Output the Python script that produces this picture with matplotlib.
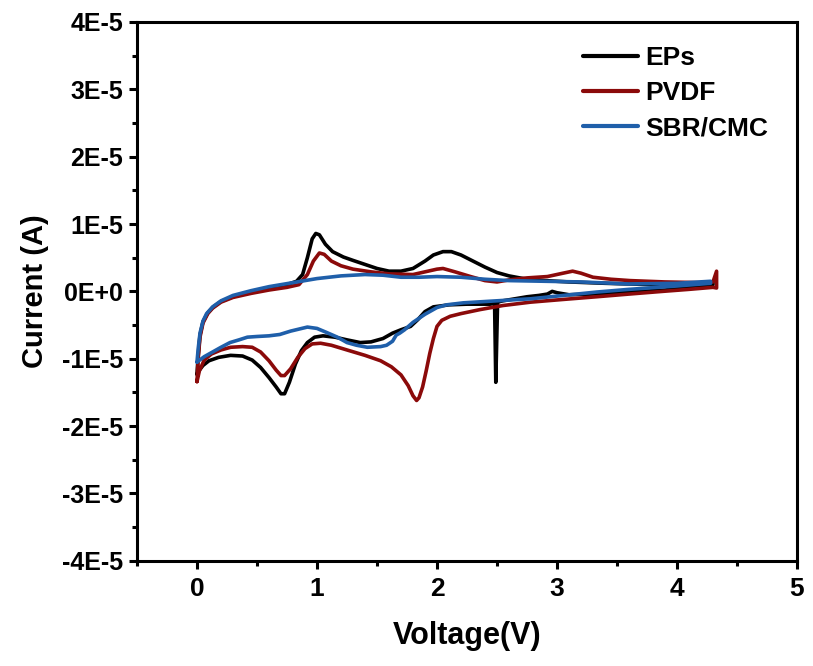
import matplotlib
matplotlib.use("Agg")
import matplotlib.pyplot as plt
from matplotlib.ticker import FixedLocator, FixedFormatter, MultipleLocator

plt.rcParams['font.family'] = ['Liberation Sans', 'DejaVu Sans']

# ---- data (current in units of 1E-5 A) ----
eps_v = [0, 0.01, 0.025, 0.05, 0.09, 0.13, 0.2, 0.3, 0.45, 0.6, 0.75, 0.83, 0.88, 0.92, 0.96, 0.99, 1.02,
         1.07, 1.13, 1.22, 1.30, 1.40, 1.50, 1.60, 1.70, 1.80, 1.90, 1.97, 2.05, 2.12, 2.2, 2.3, 2.4, 2.5,
         2.6, 2.72, 2.9, 3.1, 3.4, 3.8, 4.1, 4.3,
         4.3, 4.1, 3.9, 3.6, 3.3, 3.1, 3.0, 2.96, 2.92, 2.85, 2.75, 2.65, 2.55, 2.505, 2.49, 2.48, 2.44,
         2.35, 2.25, 2.1, 1.97, 1.90, 1.84, 1.78, 1.70, 1.63, 1.55, 1.45, 1.36, 1.25, 1.15, 1.05, 0.98,
         0.92, 0.87, 0.82, 0.77, 0.73, 0.70, 0.66, 0.6, 0.53, 0.46, 0.38, 0.28, 0.18, 0.1, 0.05, 0.02, 0]
eps_i = [-1.23, -0.95, -0.65, -0.45, -0.32, -0.24, -0.15, -0.08, -0.01, 0.05, 0.10, 0.15, 0.25, 0.50, 0.78, 0.86, 0.84,
         0.70, 0.59, 0.51, 0.46, 0.40, 0.34, 0.30, 0.30, 0.34, 0.45, 0.54, 0.59, 0.59, 0.54, 0.45, 0.36, 0.28,
         0.23, 0.19, 0.16, 0.14, 0.12, 0.10, 0.10, 0.13,
         0.10, 0.06, 0.02, -0.01, -0.04, -0.05, -0.02, 0.0, -0.04, -0.06, -0.08, -0.11, -0.14, -0.16, -1.35, -0.18, -0.19,
         -0.19, -0.19, -0.20, -0.23, -0.30, -0.42, -0.52, -0.57, -0.62, -0.70, -0.75, -0.76, -0.72, -0.68, -0.66, -0.68,
         -0.76, -0.88, -1.08, -1.35, -1.52, -1.52, -1.42, -1.28, -1.13, -1.02, -0.96, -0.95, -0.98, -1.03, -1.10, -1.17, -1.23]

pvdf_v = [0, 0.01, 0.025, 0.05, 0.09, 0.13, 0.2, 0.3, 0.45, 0.6, 0.75, 0.85, 0.92, 0.97, 1.02, 1.06, 1.12,
          1.2, 1.3, 1.45, 1.6, 1.8, 1.9, 2.0, 2.05, 2.15, 2.28, 2.4, 2.5, 2.6, 2.75, 2.92, 3.05, 3.13, 3.2,
          3.3, 3.45, 3.61, 3.9, 4.19, 4.3, 4.33, 4.33,
          4.3, 4.1, 3.88, 3.6, 3.33, 3.05, 2.78, 2.55, 2.36, 2.2, 2.11, 2.04, 2.0, 1.97, 1.94, 1.91, 1.88,
          1.85, 1.83, 1.80, 1.76, 1.70, 1.62, 1.53, 1.4, 1.25, 1.12, 1.03, 0.96, 0.9, 0.84, 0.78, 0.73, 0.70,
          0.66, 0.6, 0.53, 0.46, 0.38, 0.28, 0.2, 0.12, 0.06, 0.02, 0]
pvdf_i = [-1.34, -1.0, -0.68, -0.47, -0.33, -0.25, -0.16, -0.09, -0.03, 0.02, 0.06, 0.10, 0.25, 0.45, 0.57, 0.55, 0.45,
          0.38, 0.33, 0.29, 0.26, 0.25, 0.29, 0.33, 0.34, 0.29, 0.22, 0.16, 0.14, 0.17, 0.20, 0.22, 0.27, 0.30, 0.27,
          0.21, 0.18, 0.16, 0.14, 0.13, 0.14, 0.30, 0.05,
          0.06, 0.03, 0.0, -0.04, -0.08, -0.12, -0.16, -0.21, -0.27, -0.33, -0.37, -0.43, -0.52, -0.70, -0.92, -1.18, -1.42,
          -1.58, -1.62, -1.55, -1.40, -1.24, -1.12, -1.03, -0.95, -0.87, -0.80, -0.77, -0.78, -0.85, -0.98, -1.15, -1.25, -1.25,
          -1.17, -1.03, -0.90, -0.83, -0.82, -0.83, -0.87, -0.93, -1.02, -1.18, -1.34]

sbr_v = [0, 0.01, 0.025, 0.05, 0.08, 0.13, 0.2, 0.3, 0.45, 0.6, 0.8, 1.0, 1.2, 1.4, 1.55, 1.7, 1.85, 2.0,
         2.2, 2.4, 2.6, 2.9, 3.2, 3.6, 4.0, 4.28,
         4.28, 4.0, 3.6, 3.33, 3.0, 2.78, 2.5, 2.22, 2.08, 2.0, 1.9, 1.8, 1.73, 1.69, 1.66, 1.63, 1.58, 1.53,
         1.42, 1.33, 1.25, 1.17, 1.08, 1.0, 0.92, 0.85, 0.78, 0.69, 0.6, 0.5, 0.42, 0.35, 0.275, 0.2, 0.13,
         0.06, 0]
sbr_i = [-1.05, -0.85, -0.62, -0.44, -0.33, -0.23, -0.14, -0.06, 0.01, 0.07, 0.13, 0.19, 0.23, 0.25, 0.24, 0.21, 0.21, 0.22,
         0.21, 0.18, 0.16, 0.15, 0.14, 0.11, 0.12, 0.15,
         0.12, 0.08, 0.03, -0.01, -0.07, -0.11, -0.14, -0.17, -0.20, -0.24, -0.34, -0.46, -0.57, -0.62, -0.65, -0.74, -0.80, -0.82,
         -0.83, -0.80, -0.76, -0.68, -0.61, -0.55, -0.53, -0.56, -0.59, -0.64, -0.66, -0.67, -0.68, -0.72, -0.76, -0.83, -0.90,
         -0.97, -1.05]

series = [("EPs", eps_v, eps_i, "#000000"),
          ("PVDF", pvdf_v, pvdf_i, "#8B0A0A"),
          ("SBR/CMC", sbr_v, sbr_i, "#1F5FAA")]

ytick_vals = [-4, -3, -2, -1, 0, 1, 2, 3, 4]
ytick_labels = ["-4E-5", "-3E-5", "-2E-5", "-1E-5", "0E+0", "1E-5", "2E-5", "3E-5", "4E-5"]
xtick_vals = [0, 1, 2, 3, 4, 5]

fig = plt.figure(figsize=(8.13, 6.66), dpi=100)
ax = fig.add_axes([0.1685, 0.158, 0.8118, 0.809])

for name, v, i, c in series:
    ax.plot(v, [val * 1e-5 for val in i], color=c, lw=2.6, label=name,
            solid_joinstyle='round', solid_capstyle='round')

ax.set_xlim(-0.5, 5)
ax.set_ylim(-4e-5, 4e-5)
ax.xaxis.set_major_locator(FixedLocator(xtick_vals))
ax.xaxis.set_minor_locator(MultipleLocator(0.5))
ax.yaxis.set_major_locator(FixedLocator([v * 1e-5 for v in ytick_vals]))
ax.yaxis.set_major_formatter(FixedFormatter(ytick_labels))
ax.yaxis.set_minor_locator(MultipleLocator(0.5e-5))

for s in ax.spines.values():
    s.set_linewidth(2.2)
ax.tick_params(which='major', direction='out', length=6, width=2.2, pad=4)
ax.tick_params(which='minor', direction='out', length=3.5, width=2.2)
ax.tick_params(axis='y', labelsize=18)
ax.tick_params(axis='x', labelsize=19, pad=6)
for lab in ax.get_xticklabels() + ax.get_yticklabels():
    lab.set_fontweight('bold')

ax.set_xlabel("Voltage(V)", fontsize=22, fontweight='bold', labelpad=14)
ax.set_ylabel("Current (A)", fontsize=21, fontweight='bold', labelpad=9)

leg = ax.legend(loc='upper right', frameon=False, fontsize=19, handlelength=2.1,
                bbox_to_anchor=(0.98, 0.985), labelspacing=0.42, handletextpad=0.25,
                borderaxespad=0.2)
for t in leg.get_texts():
    t.set_fontweight('bold')
for l in leg.get_lines():
    l.set_linewidth(3)

fig.savefig("out.png", dpi=100)
